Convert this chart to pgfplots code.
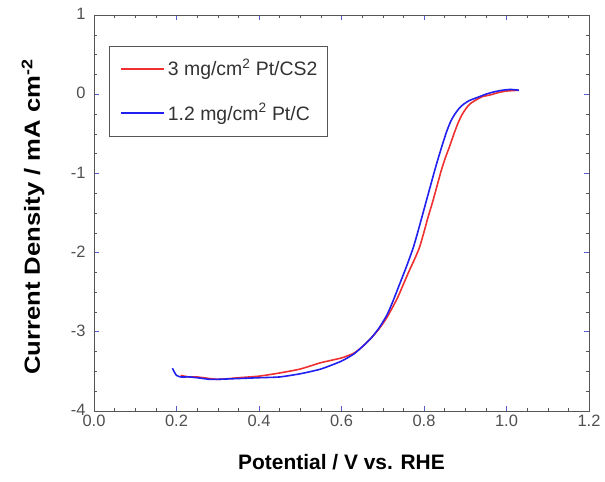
\documentclass[border=0pt]{standalone}
\usepackage{fontspec}
\setmainfont{Liberation Sans}
\usepackage{pgfplots}
\pgfplotsset{compat=1.18}
\definecolor{tickblue}{HTML}{5A5ACF}
\definecolor{axgray}{HTML}{555555}
\definecolor{lblgray}{HTML}{505050}
\definecolor{txtgray}{HTML}{333333}
\definecolor{cred}{HTML}{F03030}
\definecolor{cblue}{HTML}{2020F0}
\begin{document}
\begin{tikzpicture}
\begin{axis}[
  scale only axis,
  width=495bp, height=396bp,
  xmin=0, xmax=1.2, ymin=-4, ymax=1,
  xtick={0,0.2,...,1.2}, ytick={-4,-3,...,1},
  minor x tick num=3, minor y tick num=3,
  xticklabel style={/pgf/number format/fixed, /pgf/number format/fixed zerofill, /pgf/number format/precision=1, yshift=-1bp},
  /pgf/number format/assume math mode=true,
  tick align=inside,
  major tick length=5bp, minor tick length=3bp,
  major tick style={tickblue, line width=0.8pt},
  minor tick style={axgray, line width=0.5pt},
  axis line style={axgray, line width=0.9pt},
  ticklabel style={font=\fontsize{16.5}{19}\selectfont, text=lblgray},
  yticklabel style={xshift=-5bp, yshift=1bp},
  xlabel={\textbf{Potential / V vs. RHE}},
  ylabel={\scalebox{1.17}[1]{\textbf{Current Density / mA cm\textsuperscript{-2}}}},
  xlabel style={font=\fontsize{21}{25}\selectfont, text=black, at={(axis description cs:0.5,-0.129)}, anchor=center},
  ylabel style={font=\fontsize{22}{26}\selectfont, text=black, at={(axis description cs:-0.123,0.49)}, anchor=center},
  legend style={at={(axis description cs:0.0303,0.922)}, anchor=north west,
    draw=axgray, line width=0.6pt, font=\fontsize{19.5}{23}\selectfont, text=txtgray,
    inner xsep=8bp, inner ysep=0.5bp,
    nodes={text height=27bp, text depth=13.5bp}},
  legend cell align=left,
  legend image code/.code={\path (-3bp,0bp); \draw[#1, line width=2pt] (0bp,0bp) -- (43bp,0bp); \path (44bp,0bp);},
]
\addplot[draw=cred, line width=1.6pt, smooth, tension=0.35] coordinates {
(0.210,-3.55) (0.230,-3.57) (0.250,-3.57) (0.300,-3.60) (0.350,-3.58)
(0.400,-3.56) (0.450,-3.52) (0.500,-3.47) (0.550,-3.39) (0.600,-3.33)
(0.630,-3.27) (0.650,-3.19) (0.670,-3.09) (0.690,-2.97) (0.710,-2.82)
(0.735,-2.58) (0.750,-2.40) (0.765,-2.22) (0.780,-2.05) (0.790,-1.92)
(0.800,-1.74) (0.810,-1.55) (0.822,-1.34) (0.832,-1.15) (0.842,-0.96)
(0.852,-0.80) (0.862,-0.66) (0.872,-0.51) (0.882,-0.37) (0.892,-0.26)
(0.902,-0.18) (0.912,-0.12) (0.927,-0.07) (0.942,-0.03) (0.960,-0.01)
(0.980,0.02) (1.000,0.04) (1.030,0.05)
};
\addlegendentry{3 mg/cm\textsuperscript{2} Pt/CS2}
\addplot[draw=cblue, line width=1.6pt, smooth, tension=0.35] coordinates {
(0.190,-3.46) (0.195,-3.51) (0.200,-3.55) (0.210,-3.57) (0.230,-3.57)
(0.250,-3.58) (0.280,-3.60) (0.300,-3.60) (0.350,-3.59) (0.400,-3.58)
(0.450,-3.57) (0.500,-3.53) (0.550,-3.47) (0.600,-3.37) (0.630,-3.28)
(0.650,-3.19) (0.670,-3.09) (0.690,-2.96) (0.710,-2.79) (0.725,-2.61)
(0.740,-2.41) (0.755,-2.21) (0.765,-2.07) (0.775,-1.92) (0.785,-1.74)
(0.795,-1.55) (0.806,-1.34) (0.815,-1.17) (0.825,-0.98) (0.835,-0.80)
(0.845,-0.63) (0.855,-0.47) (0.865,-0.34) (0.875,-0.25) (0.885,-0.18)
(0.895,-0.13) (0.910,-0.08) (0.930,-0.04) (0.950,0.00) (0.970,0.03)
(0.990,0.05) (1.010,0.06) (1.030,0.05)
};
\addlegendentry{1.2 mg/cm\textsuperscript{2} Pt/C}
\end{axis}
\pgfresetboundingbox
\path (-94bp,-71bp) rectangle (511bp,411bp);
\end{tikzpicture}
\end{document}
